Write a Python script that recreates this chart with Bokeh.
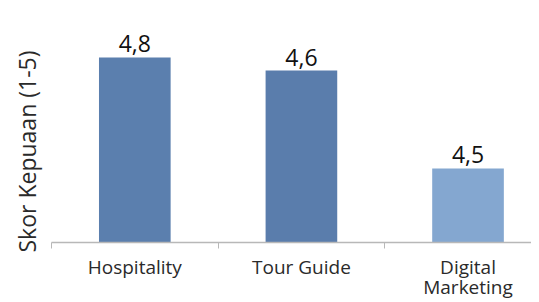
from bokeh.plotting import figure
from bokeh.models import FixedTicker, Title, ColumnDataSource, Range1d
from bokeh.core.properties import value
from bokeh.embed import file_html
from bokeh.resources import INLINE

categories = ["Hospitality", "Tour Guide", "Digital\nMarketing"]
scores = [4.8, 4.6, 4.5]
score_labels = ["4,8", "4,6", "4,5"]
# bar heights as drawn in the picture (the reference is not to scale)
bar_heights = [4.8, 4.46, 1.92]
bar_colors = ["#5b7fae", "#5a7dac", "#84a7d0"]
y_title = "Skor Kepuaan (1-5)"

xs = list(range(len(categories)))
src = ColumnDataSource(dict(x=xs, top=bar_heights, lab=score_labels, color=bar_colors))

FONT = "Open Sans"

p = figure(frame_width=480, frame_height=224, output_backend="svg", toolbar_location=None,
           x_range=Range1d(-0.5, 2.381), y_range=Range1d(0, 5.81),
           min_border_left=51, min_border_top=18, min_border_right=0, min_border_bottom=4)
p.background_fill_color = "white"
p.border_fill_color = "white"
p.outline_line_color = None
p.grid.visible = False

p.vbar(x="x", top="top", width=0.43, bottom=0, fill_color="color", line_color=None, source=src)
p.text(x="x", y="top", text="lab", source=src, text_align="center", text_baseline="bottom",
       y_offset=-5, text_font=value(FONT), text_font_size="23px", text_color="#111111")

p.yaxis.visible = False
ax = p.xaxis[0]
ax.ticker = FixedTicker(ticks=xs, minor_ticks=[-0.5, 0.5, 1.5, 2.5])
ax.major_label_overrides = {i: c for i, c in enumerate(categories)}
ax.major_tick_out = 0
ax.major_tick_in = 0
ax.minor_tick_out = 6
ax.minor_tick_in = 0
ax.minor_tick_line_color = "#b8b8b8"
ax.axis_line_color = "#b8b8b8"
ax.axis_line_width = 1.5
ax.major_label_text_font = FONT
ax.major_label_text_font_size = "19px"
ax.major_label_text_color = "#2a2a2a"
ax.major_label_text_line_height = 0.8
ax.major_label_standoff = 5

t = Title(text=y_title, align="left", offset=-10, text_font=FONT, text_font_size="23px",
          text_font_style="normal", text_color="#2a2a2a", standoff=17)
p.add_layout(t, "left")

open("out.html", "w").write(file_html(p, INLINE))
